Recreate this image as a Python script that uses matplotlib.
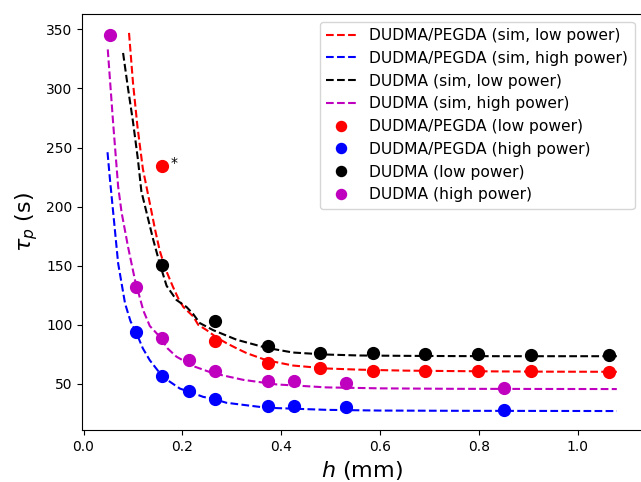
import numpy as np
import matplotlib
matplotlib.use("Agg")
import matplotlib.pyplot as plt

# simulated curves
h_sim_pegda_low = [0.092, 0.100, 0.109, 0.120, 0.134, 0.145, 0.154, 0.165, 0.181, 0.192, 0.202,
                   0.212, 0.222, 0.232, 0.249, 0.270, 0.289, 0.310, 0.330, 0.370, 0.424, 0.492,
                   0.559, 0.65, 0.75, 0.85, 0.95, 1.079]
tau_sim_pegda_low = [347, 305, 268, 232, 203, 180, 163, 148, 132, 122, 115,
                     111, 107, 100, 95.5, 89, 84.5, 80, 76, 70, 65.5, 63,
                     62, 61.2, 60.8, 60.5, 60.3, 60.2]

h_sim_pegda_high = [0.0485, 0.053, 0.060, 0.070, 0.084, 0.095, 0.107, 0.120, 0.134, 0.160, 0.195,
                    0.2125, 0.242, 0.265, 0.289, 0.370, 0.492, 0.6, 0.75, 0.9, 1.079]
tau_sim_pegda_high = [246, 225, 195, 152, 118, 103, 93, 80, 70, 56, 46,
                      43.5, 39, 37, 34, 29.8, 28, 27.4, 27.2, 27.1, 27.0]

h_sim_dudma_low = [0.080, 0.090, 0.100, 0.110, 0.117, 0.131, 0.141, 0.154, 0.168, 0.188, 0.2085,
                   0.222, 0.235, 0.262, 0.310, 0.370, 0.424, 0.492, 0.559, 0.65, 0.75, 0.85,
                   0.95, 1.079]
tau_sim_dudma_low = [330, 300, 272, 240, 213, 189, 172, 152, 133, 121, 115,
                     109, 101.5, 95.5, 87.3, 80.5, 76.5, 74.8, 74.0, 73.7, 73.5, 73.4,
                     73.4, 73.4]

h_sim_dudma_high = [0.049, 0.060, 0.070, 0.077, 0.090, 0.104, 0.121, 0.134, 0.154, 0.170, 0.188,
                    0.222, 0.262, 0.323, 0.391, 0.492, 0.6, 0.75, 0.9, 1.079]
tau_sim_dudma_high = [333, 270, 217, 195, 166, 138, 112, 99, 90, 80, 73,
                      65, 59, 53.4, 49.5, 47, 46.2, 45.8, 45.7, 45.6]

# measured points
h_pegda_low = [0.1596, 0.266, 0.3724, 0.4788, 0.5852, 0.6916, 0.798, 0.9044, 1.064]
tau_pegda_low = [234, 86, 68, 63, 61, 61, 60.5, 60.5, 60]

h_pegda_high = [0.1064, 0.1596, 0.2128, 0.266, 0.3724, 0.4256, 0.532, 0.8512]
tau_pegda_high = [94, 56.5, 44, 37.5, 31.5, 31.5, 30.5, 28]

h_dudma_low = [0.1596, 0.266, 0.3724, 0.4788, 0.5852, 0.6916, 0.798, 0.9044, 1.064]
tau_dudma_low = [151, 103, 82, 76.5, 76, 75.5, 75, 74.2, 74]

h_dudma_high = [0.0532, 0.1064, 0.1596, 0.2128, 0.266, 0.3724, 0.4256, 0.532, 0.8512]
tau_dudma_high = [345, 132, 89, 70, 61, 52.5, 52, 50.5, 46.5]

fig = plt.figure(figsize=(6.41, 4.82), dpi=100)
ax = fig.add_axes([0.128, 0.108, 0.874, 0.863])

ax.plot(h_sim_pegda_low, tau_sim_pegda_low, 'r--', label='DUDMA/PEGDA (sim, low power)')
ax.plot(h_sim_pegda_high, tau_sim_pegda_high, 'b--', label='DUDMA/PEGDA (sim, high power)')
ax.plot(h_sim_dudma_low, tau_sim_dudma_low, 'k--', label='DUDMA (sim, low power)')
ax.plot(h_sim_dudma_high, tau_sim_dudma_high, 'm--', label='DUDMA (sim, high power)')

ax.plot(h_pegda_low, tau_pegda_low, 'ro', ms=8.5, label='DUDMA/PEGDA (low power)')
ax.plot(h_pegda_high, tau_pegda_high, 'bo', ms=8.5, label='DUDMA/PEGDA (high power)')
ax.plot(h_dudma_low, tau_dudma_low, 'ko', ms=8.5, label='DUDMA (low power)')
ax.plot(h_dudma_high, tau_dudma_high, 'mo', ms=8.5, label='DUDMA (high power)')

ax.text(h_pegda_low[0] + 0.024, tau_pegda_low[0] + 3, '*', fontsize=10, ha='center', va='center')

ax.set_xlabel(r'$h$ (mm)', fontsize=16)
ax.set_ylabel(r'$\tau_p$ (s)', fontsize=16)
ax.legend(loc='upper right', fontsize=11.2, markerscale=0.85)

fig.savefig('out.png', dpi=100)
